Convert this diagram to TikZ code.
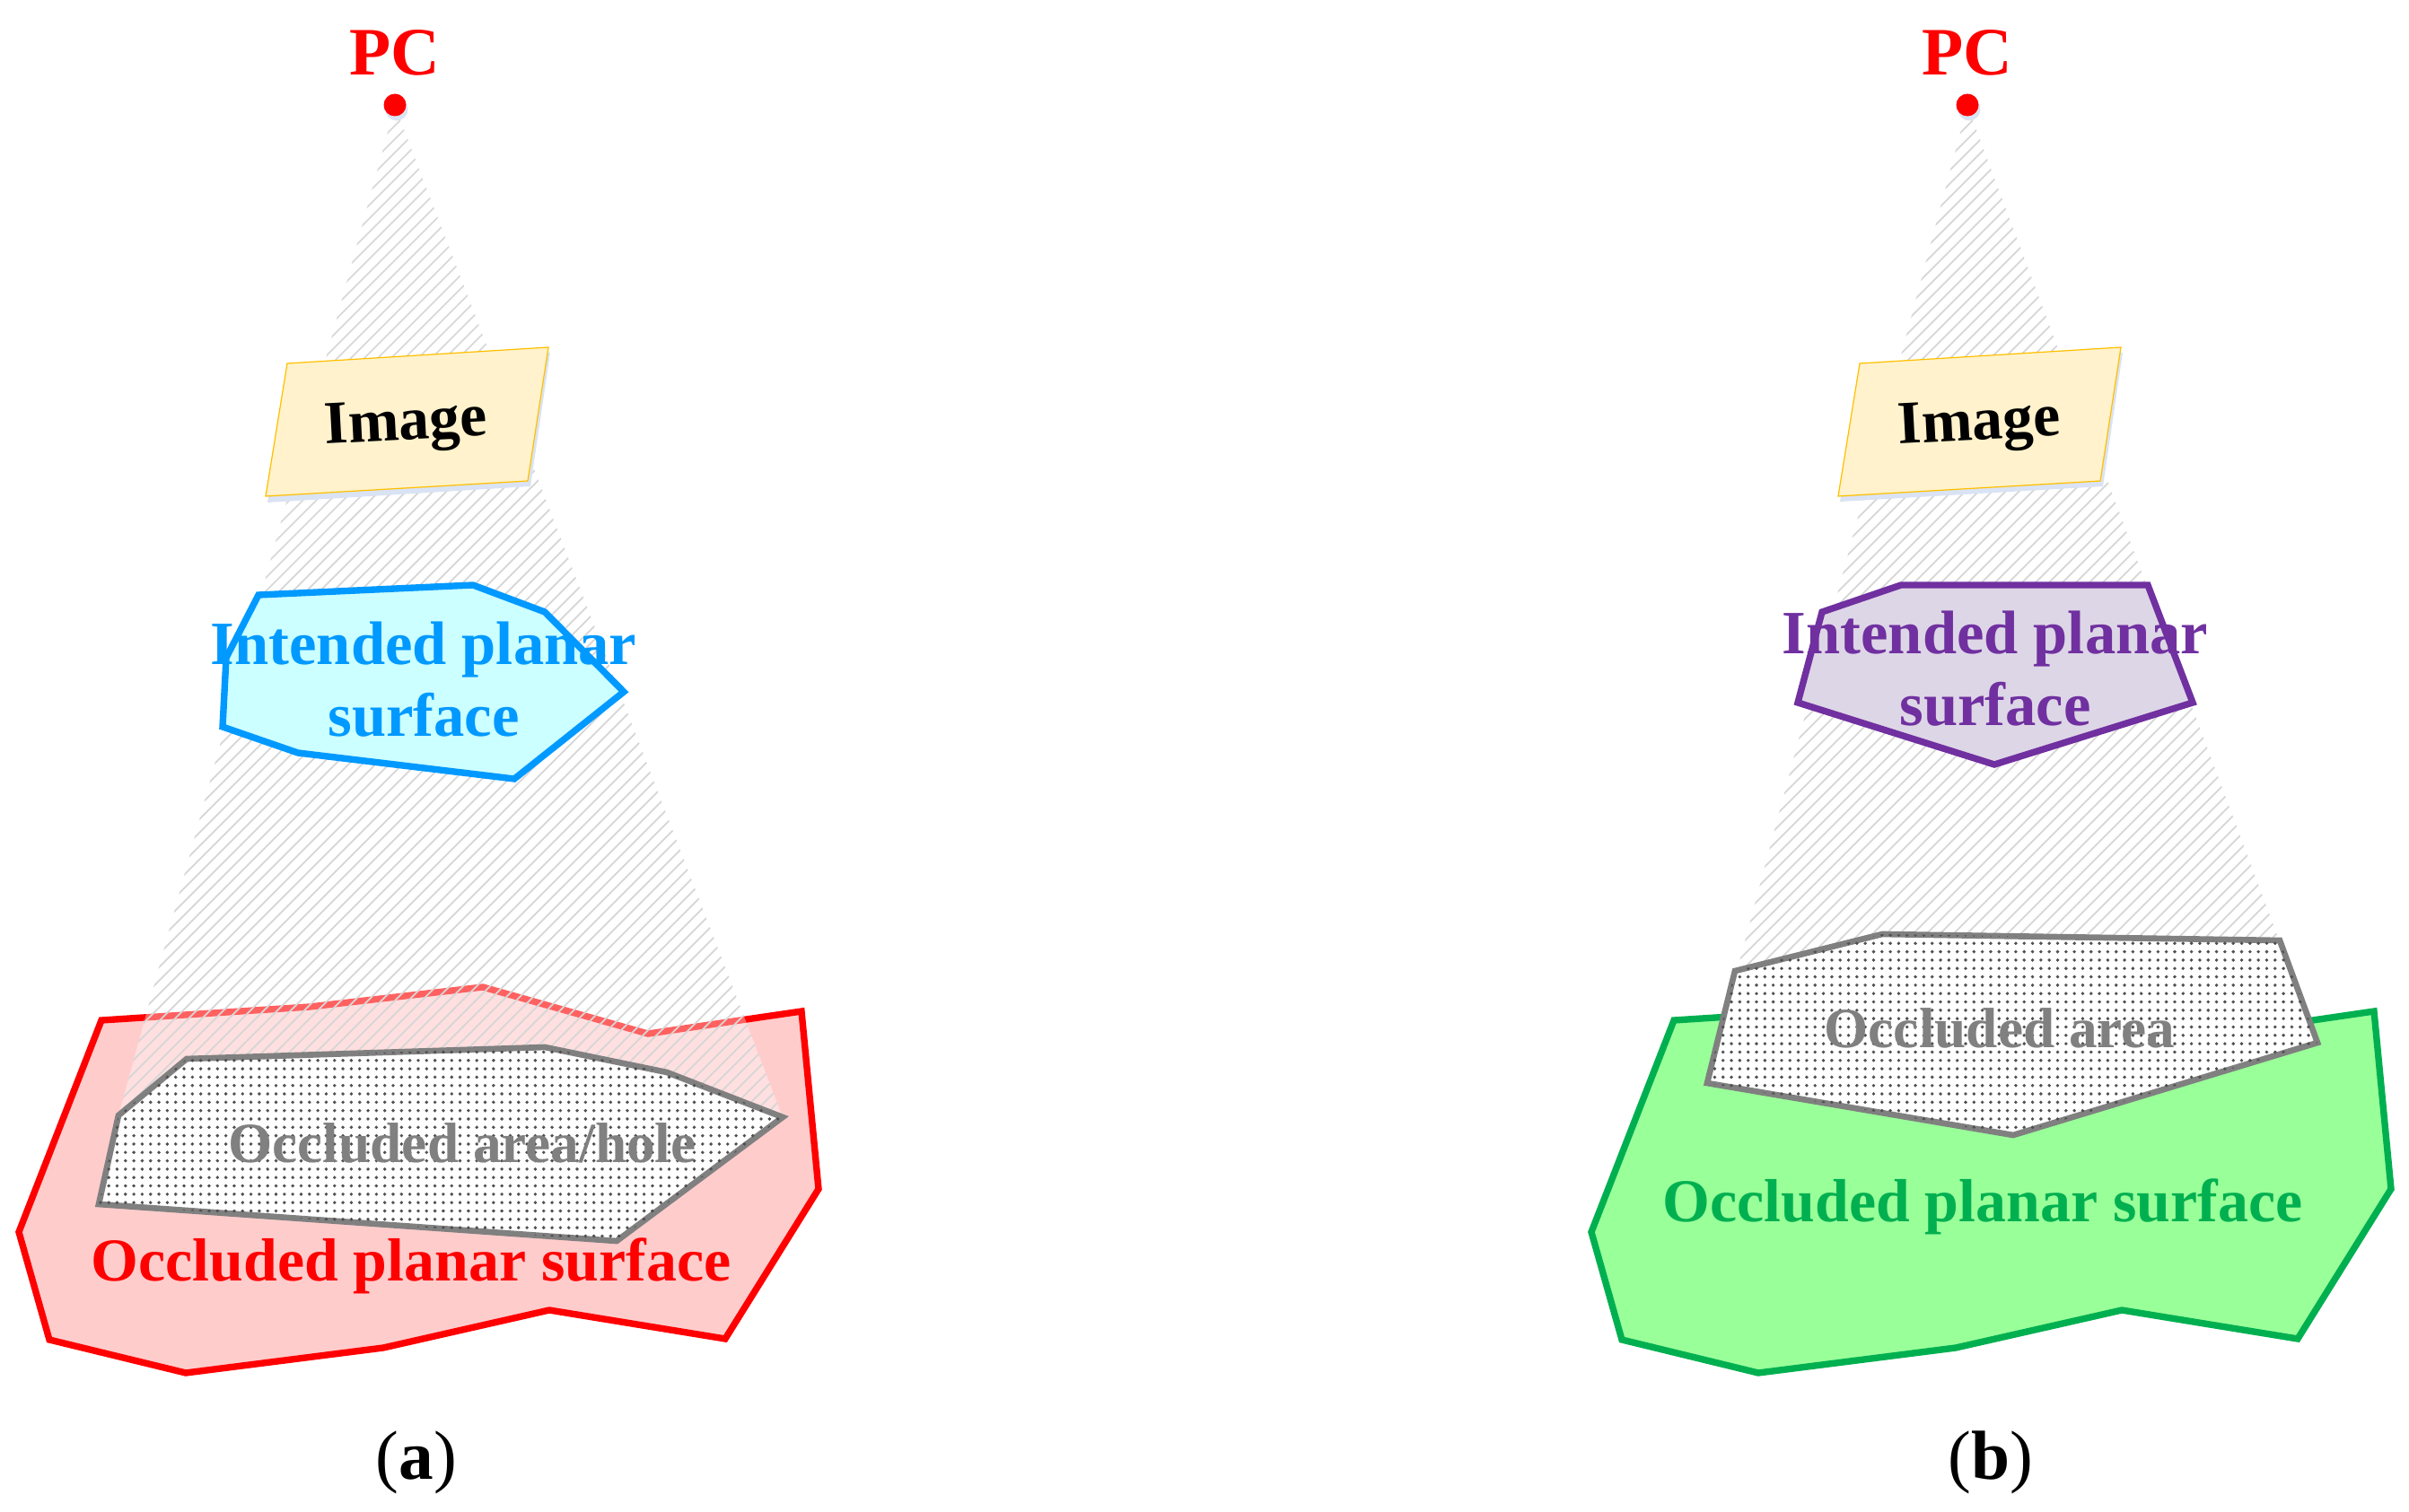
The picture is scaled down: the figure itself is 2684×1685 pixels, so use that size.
\documentclass[tikz,border=0pt]{standalone}
\usepackage{fontspec}
\setmainfont{Liberation Serif}
\usetikzlibrary{patterns.meta}
\definecolor{imgfill}{HTML}{FFF2CC}
\definecolor{imgline}{HTML}{FFC000}
\definecolor{shadowc}{HTML}{DAE3F3}
\definecolor{bluefill}{HTML}{CCFFFF}
\definecolor{blueline}{HTML}{0099FF}
\definecolor{purpfill}{HTML}{DDD6E6}
\definecolor{purpline}{HTML}{7030A0}
\definecolor{greenfill}{HTML}{99FF99}
\definecolor{greenline}{HTML}{00B050}
\definecolor{pinkfill}{HTML}{FFCCCC}
\definecolor{redline}{HTML}{FF0000}
\definecolor{occgray}{HTML}{808080}
\definecolor{dotgray}{HTML}{505050}
\definecolor{hatchc}{HTML}{D6D6D6}
\tikzset{
  surf/.style={line width=2.1pt, line join=miter},
  occl/.style={draw=occgray, line width=1.9pt, line join=miter, fill=white,
    postaction={pattern={Dots[distance=2.65pt, radius=0.55pt]}, pattern color=dotgray}},
  imgbox/.style={draw=imgline, fill=imgfill, line width=0.35pt},
  imgshadow/.style={fill=shadowc},
  hatchline/.style={draw=hatchc, line width=0.5pt},
  big/.style={inner sep=0pt, anchor=base, font=\bfseries\fontsize{19.3}{23}\selectfont},
  mid/.style={inner sep=0pt, anchor=base, font=\bfseries\fontsize{18}{22}\selectfont},
  pclabel/.style={inner sep=0pt, anchor=base, text=redline, font=\bfseries\fontsize{21.5}{25}\selectfont},
  caption/.style={inner sep=0pt, anchor=base, font=\fontsize{22}{26}\selectfont}
}
\begin{document}
\begin{tikzpicture}[x=0.01cm, y=-0.01cm]
\useasboundingbox (0,0) rectangle (2684,1685);

% ================= panel (a) =================
% occluded planar surface (red)
\path[surf, draw=redline, fill=pinkfill]
  (113,1137) -- (345,1122) -- (538,1100) -- (722,1152) -- (893,1127) -- (912,1325)
  -- (808,1492) -- (612,1460) -- (427,1502) -- (207,1530) -- (55,1493) -- (21,1373) -- cycle;
% viewing cone
\begin{scope}
  \clip (440,118) -- (872,1245) -- (132,1243) -- cycle;
  \fill[white, opacity=0.38] (0,0) rectangle (1000,1400);
  \foreach \k in {550,565,...,2150} \draw[hatchline] ({\k-1300},1300) -- (\k,0);
\end{scope}
% image plane
\fill[imgshadow] (322,411) -- (613,393) -- (591,542) -- (298,560) -- cycle;
\path[imgbox] (320,405) -- (611,387) -- (588,536) -- (296,553) -- cycle;
\node[big, rotate=3] (imgA) at (453,490) {Image};
% intended planar surface (blue)
\path[surf, draw=blueline, fill=bluefill]
  (288,663) -- (527,652) -- (607,682) -- (695,771) -- (573,868) -- (332,839) -- (248,810) -- (252,733) -- cycle;
\node[big, text=blueline, font=\bfseries\fontsize{19.5}{23}\selectfont] (intA1) at (472,740) {Intended planar};
\node[big, text=blueline, font=\bfseries\fontsize{19.5}{23}\selectfont] (intA2) at (472,820) {surface};
% occluded area / hole
\path[occl] (208,1180) -- (607,1167) -- (743,1195) -- (872,1245) -- (687,1383) -- (110,1342) -- (132,1243) -- cycle;
\node[mid, text=occgray] (holeA) at (515,1295) {Occluded area/hole};
\node[big, text=redline] (occA) at (458,1427) {Occluded planar surface};
% projection centre
\fill[shadowc] (442,122) circle (12.5);
\fill[redline] (440,117) circle (12.5);
\node[pclabel] (pcA) at (440,84) {PC};
\node[caption] (capA) at (464,1648) {(\textbf{a})};

% ================= panel (b) =================
% occluded planar surface (green)
\path[surf, draw=greenline, fill=greenfill]
  (1865,1137) -- (2097,1122) -- (2290,1100) -- (2474,1152) -- (2645,1127) -- (2664,1325)
  -- (2560,1492) -- (2364,1460) -- (2179,1502) -- (1959,1530) -- (1807,1493) -- (1773,1373) -- cycle;
% viewing cone
\begin{scope}
  \clip (2192,118) -- (2582,1162) -- (1902,1207) -- cycle;
  \foreach \k in {2302,2317,...,3800} \draw[hatchline] ({\k-1300},1300) -- (\k,0);
\end{scope}
% image plane
\fill[imgshadow] (2074,411) -- (2365,393) -- (2343,542) -- (2050,559) -- cycle;
\path[imgbox] (2072,405) -- (2363,387) -- (2340,536) -- (2048,553) -- cycle;
\node[big, rotate=3] (imgB) at (2206,490) {Image};
% intended planar surface (purple)
\path[surf, draw=purpline, fill=purpfill]
  (2118,652) -- (2393,652) -- (2443,783) -- (2222,852) -- (2003,783) -- (2030,682) -- cycle;
\node[big, text=purpline, font=\bfseries\fontsize{19.5}{23}\selectfont] (intB1) at (2223,728) {Intended planar};
\node[big, text=purpline, font=\bfseries\fontsize{19.5}{23}\selectfont] (intB2) at (2223,808) {surface};
% occluded area
\path[occl] (1933,1082) -- (2097,1041) -- (2540,1048) -- (2582,1162) -- (2243,1265) -- (1902,1207) -- cycle;
\node[mid, text=occgray] (holeB) at (2228,1167) {Occluded area};
\node[big, text=greenline] (occB) at (2209,1361) {Occluded planar surface};
% projection centre
\fill[shadowc] (2194,122) circle (12.5);
\fill[redline] (2192,117) circle (12.5);
\node[pclabel] (pcB) at (2192,84) {PC};
\node[caption] (capB) at (2218,1648) {(\textbf{b})};
\end{tikzpicture}
\end{document}
